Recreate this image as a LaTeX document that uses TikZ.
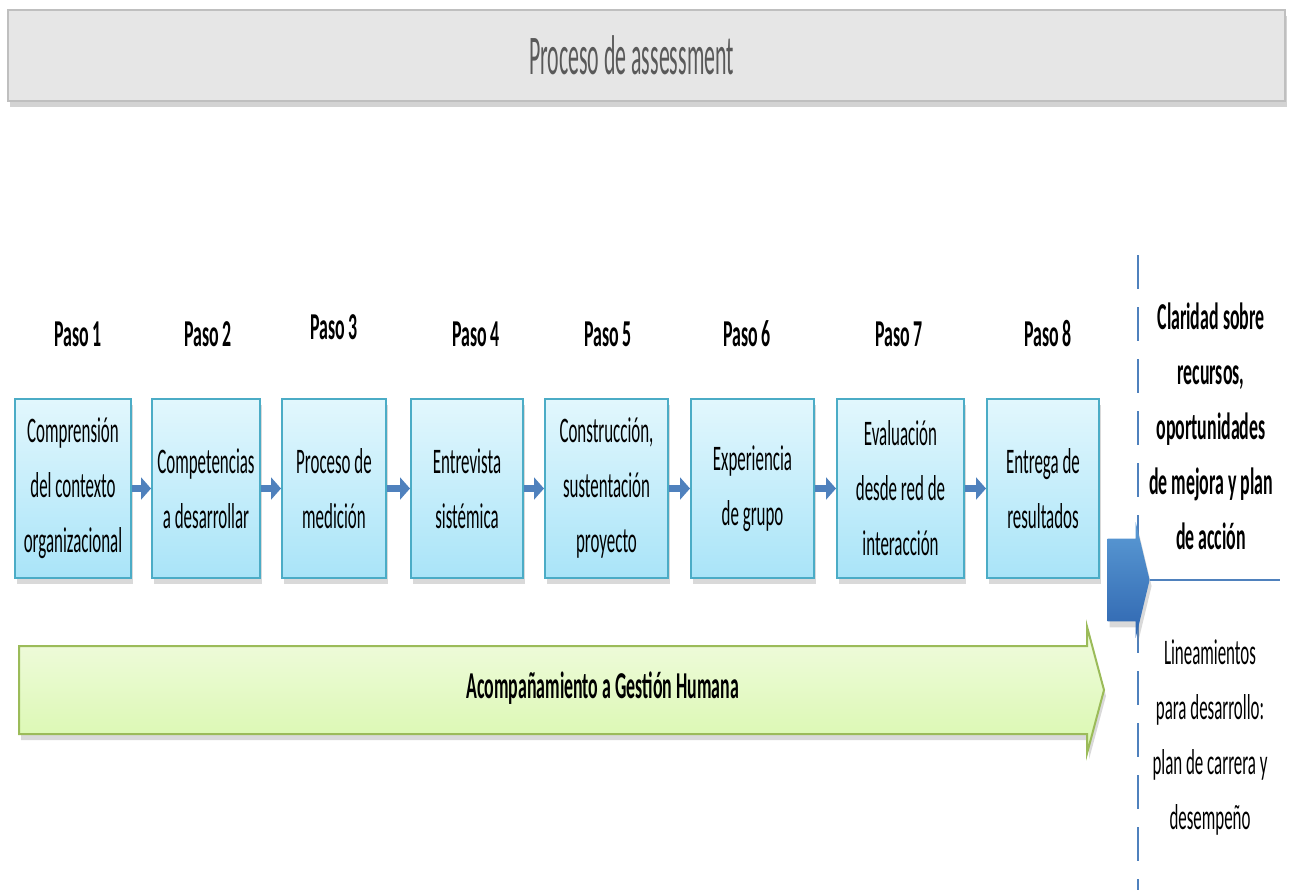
\documentclass[tikz,border=0pt]{standalone}
\usepackage{fontspec}
\setmainfont{Carlito}
\newfontfamily\cajafont[FakeStretch=0.47]{Carlito}
\newfontfamily\titulofont[FakeStretch=0.39]{Carlito}
\usetikzlibrary{positioning,shadows,arrows.meta,shapes.arrows}
\definecolor{borde}{HTML}{4BACC6}
\definecolor{cajaarriba}{HTML}{E2F7FD}
\definecolor{cajaabajo}{HTML}{A9E4F8}
\definecolor{flechaazul}{HTML}{4F81BD}
\definecolor{azulclaro}{HTML}{5B9BD5}
\definecolor{azuloscuro}{HTML}{2F66B0}
\definecolor{verdeborde}{HTML}{9BBB59}
\definecolor{verdearriba}{HTML}{F1FBE0}
\definecolor{verdeabajo}{HTML}{D9F8AE}
\definecolor{grisfondo}{HTML}{E6E6E6}
\definecolor{grisborde}{HTML}{BFBFBF}
\definecolor{gristexto}{HTML}{595959}
\tikzset{
	caja/.style={rectangle, draw=borde, line width=1pt, top color=cajaarriba, bottom color=cajaabajo, minimum height=89.5pt, inner xsep=2pt, align=center, font=\cajafont\fontsize{18}{27.5}\selectfont, execute at begin node={\rule{0pt}{17pt}}, drop shadow={opacity=0.3, shadow xshift=1pt, shadow yshift=-3pt}},
	paso/.style={inner sep=0pt, text height=14pt, text depth=0pt, font=\cajafont\bfseries\fontsize{19}{27.5}\selectfont},
	enlace/.style={draw=flechaazul, line width=3.5pt, -{Triangle[length=5pt,width=11pt]}},
	resultado/.style={align=center, font=\cajafont\bfseries\fontsize{19}{27.5}\selectfont},
	nota/.style={align=center, font=\cajafont\fontsize{18}{27.5}\selectfont},
}
\begin{document}
\begin{tikzpicture}[x=0.5pt, y=-0.5pt]
	\useasboundingbox (0,0) rectangle (1291,890);
	\node[rectangle, fill=grisfondo, draw=grisborde, line width=1pt, minimum width=638.5pt, minimum height=45.5pt, text=gristexto, font=\titulofont\fontsize{28}{30}\selectfont, drop shadow={opacity=0.35, shadow xshift=1pt, shadow yshift=-3pt}] (titulo) at (646.5,55.5) {Proceso de assessment\hspace*{15pt}};
	
	\coordinate (cortearriba) at (1138,255);
	\coordinate (corteabajo) at (1138,890);
	\draw[flechaazul, line width=1pt, dash pattern=on 17pt off 9pt] (cortearriba) -- (corteabajo);
	
	\node[caja, minimum width=58pt, anchor=north west] (comprension) at (14,398) {Comprensión\\del contexto\\organizacional};
	\node[caja, minimum width=54pt, right=9.5pt of comprension] (competencias) {Competencias\\a desarrollar};
	\node[caja, minimum width=52pt, right=10pt of competencias] (medicion) {Proceso de\\medición};
	\node[caja, minimum width=56pt, right=11.5pt of medicion] (entrevista) {Entrevista\\sistémica};
	\node[caja, minimum width=61.5pt, right=10pt of entrevista] (construccion) {Construcción,\\sustentación\\proyecto};
	\node[caja, minimum width=61.5pt, right=10.5pt of construccion] (experiencia) {Experiencia\\de grupo};
	\node[caja, minimum width=63.5pt, right=10.5pt of experiencia] (evaluacion) {Evaluación\\desde red de\\interacción};
	\node[caja, minimum width=56pt, right=10.5pt of evaluacion] (entrega) {Entrega de\\resultados};
	
	\node[paso, above=25.5pt of comprension, xshift=2.5pt] (paso1) {Paso 1};
	\node[paso, above=25.5pt of competencias, xshift=1pt] (paso2) {Paso 2};
	\node[paso, above=29pt of medicion] (paso3) {Paso 3};
	\node[paso, above=25.5pt of entrevista, xshift=4.5pt] (paso4) {Paso 4};
	\node[paso, above=25.5pt of construccion, xshift=0.75pt] (paso5) {Paso 5};
	\node[paso, above=25.5pt of experiencia, xshift=-2.75pt] (paso6) {Paso 6};
	\node[paso, above=25.5pt of evaluacion, xshift=-0.75pt] (paso7) {Paso 7};
	\node[paso, above=25.5pt of entrega, xshift=2.5pt] (paso8) {Paso 8};
	
	\draw[enlace] (comprension) -- (competencias);
	\draw[enlace] (competencias) -- (medicion);
	\draw[enlace] (medicion) -- (entrevista);
	\draw[enlace] (entrevista) -- (construccion);
	\draw[enlace] (construccion) -- (experiencia);
	\draw[enlace] (experiencia) -- (evaluacion);
	\draw[enlace] (evaluacion) -- (entrega);
	
	\node[single arrow, draw=verdeborde, line width=1pt, top color=verdearriba, bottom color=verdeabajo, minimum height=542.5pt, single arrow head extend=9.5pt, single arrow tip angle=150, text height=12pt, text depth=4pt, inner ysep=13.5pt, font=\cajafont\bfseries\fontsize{19}{27.5}\selectfont, drop shadow={opacity=0.3, shadow xshift=1pt, shadow yshift=-3pt}, anchor=tail] (acompanamiento) at (18,690) {\hspace*{47pt}Acompañamiento a Gestión Humana};
	
	\node[single arrow, draw=none, top color=azulclaro, bottom color=azuloscuro, minimum height=21pt, single arrow head extend=8.25pt, single arrow tip angle=153, inner ysep=20.5pt, inner xsep=0pt, drop shadow={opacity=0.3, shadow xshift=1pt, shadow yshift=-3pt}, anchor=tip] (meta) at (1150,580) {};
	\coordinate (fin) at (1280,580);
	\draw[flechaazul, line width=1pt] (meta.tip) -- (fin);
	
	\node[resultado] (claridad) at (1211,426) {Claridad sobre\\recursos,\\oportunidades\\de mejora y plan\\de acción};
	\node[nota] (lineamientos) at (1210,738) {Lineamientos\\para desarrollo:\\plan de carrera y\\desempeño};
\end{tikzpicture}
\end{document}
